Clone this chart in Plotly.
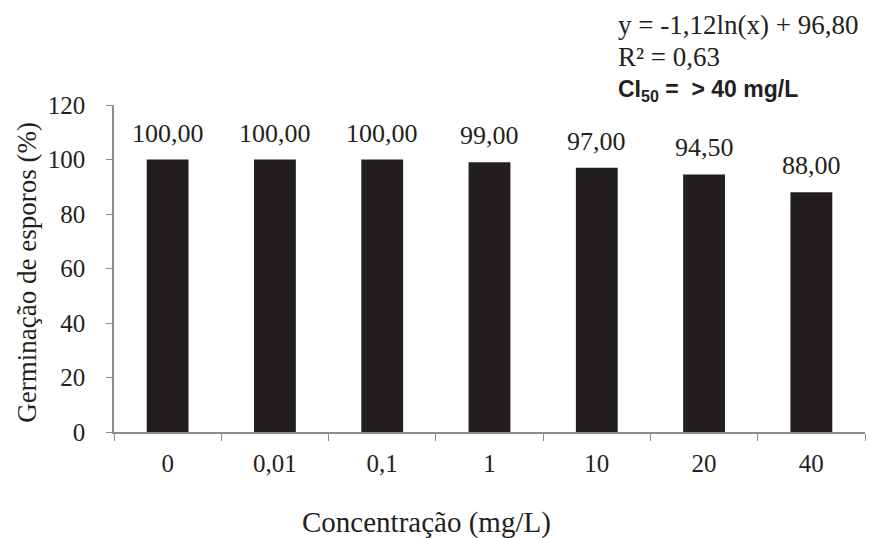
import plotly.graph_objects as go

categories = ["0", "0,01", "0,1", "1", "10", "20", "40"]
germinacao = [100.00, 100.00, 100.00, 99.00, 97.00, 94.50, 88.00]
y_ticks = [0, 20, 40, 60, 80, 100, 120]

serif = "Liberation Serif"
axis_col = "#8c8c8c"
text_col = "#231f20"

fig = go.Figure(go.Bar(
    x=categories, y=germinacao,
    marker=dict(color="#231f20", line=dict(width=0)),
    width=0.39,
    cliponaxis=False,
))

annotations = []
for i, v in enumerate(germinacao):
    annotations.append(dict(
        x=i, y=v, xref="x", yref="y", text=f"{v:.2f}".replace(".", ","),
        showarrow=False, yanchor="bottom", yshift=10,
        font=dict(family=serif, size=26, color=text_col)))

annotations += [
    dict(text="y = -1,12ln(x) + 96,80", xref="paper", yref="paper", x=0.668, y=1.245,
         xanchor="left", yanchor="middle", showarrow=False,
         font=dict(family=serif, size=27, color=text_col)),
    dict(text="R² = 0,63", xref="paper", yref="paper", x=0.668, y=1.147,
         xanchor="left", yanchor="middle", showarrow=False,
         font=dict(family=serif, size=27, color=text_col)),
    dict(text="<b>CI<sub>50</sub> =&nbsp; &gt; 40 mg/L</b>", xref="paper", yref="paper", x=0.668, y=1.045,
         xanchor="left", yanchor="middle", showarrow=False,
         font=dict(family="Liberation Sans", size=23, color=text_col)),
    dict(text="Concentração (mg/L)", xref="paper", yref="paper", x=0.416, y=-0.278,
         xanchor="center", yanchor="middle", showarrow=False,
         font=dict(family=serif, size=29, color=text_col)),
    dict(text="Germinação de esporos (%)", xref="paper", yref="paper", x=-0.116, y=0.49,
         xanchor="center", yanchor="middle", textangle=-90, showarrow=False,
         font=dict(family=serif, size=27, color=text_col)),
]

fig.update_layout(
    width=869, height=538,
    margin=dict(l=114, r=4, t=105, b=106),
    paper_bgcolor="white", plot_bgcolor="white",
    showlegend=False,
    font=dict(family=serif, color=text_col),
    xaxis=dict(
        type="category", tickson="boundaries", ticks="outside", ticklen=7,
        tickcolor=axis_col, showline=True, linecolor=axis_col, linewidth=1.5,
        showgrid=False, tickfont=dict(family=serif, size=25, color=text_col),
        ticklabelstandoff=8, range=[-0.5, len(categories) - 0.5],
    ),
    yaxis=dict(
        range=[0, 120], tickvals=y_ticks, ticks="outside", ticklen=6,
        tickcolor=axis_col, showline=True, linecolor=axis_col, linewidth=1.5,
        showgrid=False, zeroline=False,
        tickfont=dict(family=serif, size=25, color=text_col),
        ticklabelstandoff=16,
    ),
    annotations=annotations,
)

fig.write_html("out.html")
